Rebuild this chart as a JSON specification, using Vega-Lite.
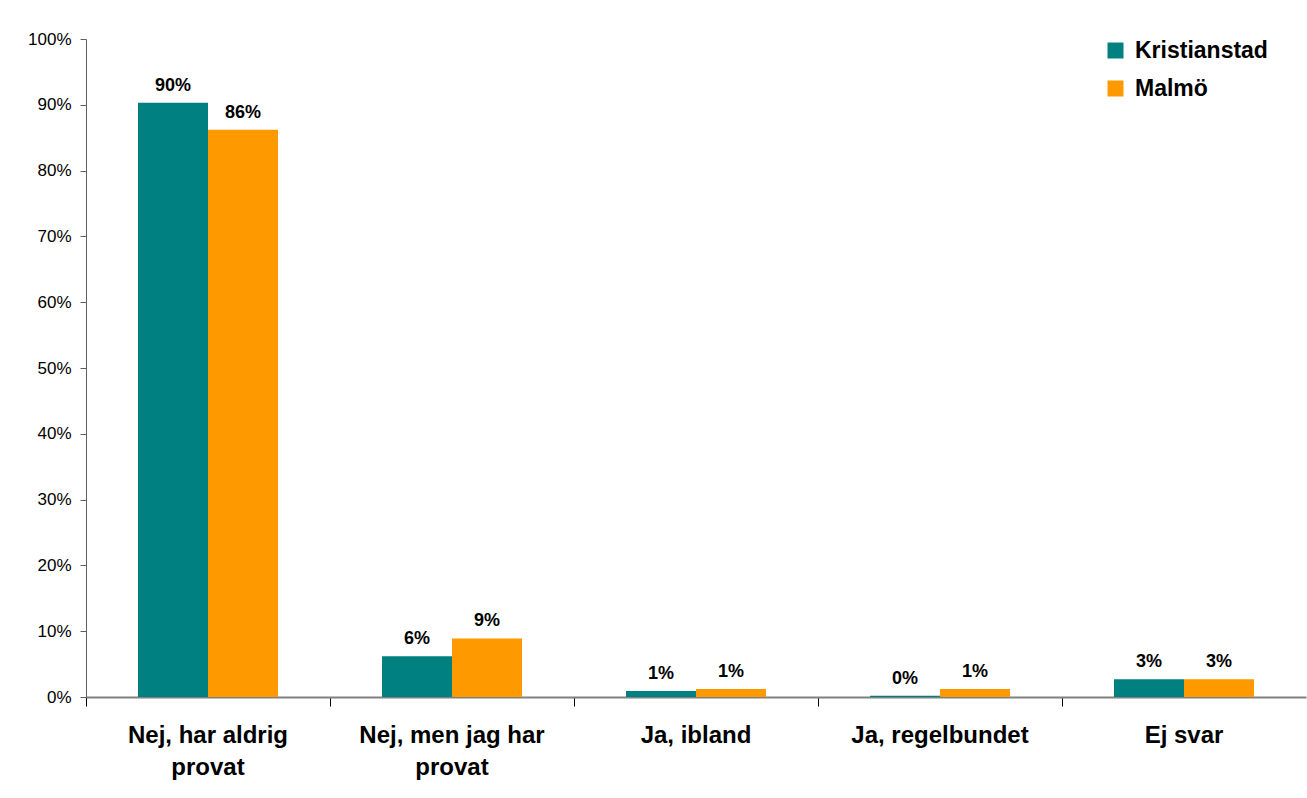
{
  "$schema": "https://vega.github.io/schema/vega-lite/v6.json",
  "width": 1220,
  "height": 658,
  "autosize": {"type": "none"},
  "padding": {"left": 86, "top": 39, "right": 1, "bottom": 101},
  "background": "white",
  "data": {
    "values": [
      {"svar": "Nej, har aldrig provat", "ort": "Kristianstad", "andel": 90.3, "etikett": "90%"},
      {"svar": "Nej, har aldrig provat", "ort": "Malmö", "andel": 86.2, "etikett": "86%"},
      {"svar": "Nej, men jag har provat", "ort": "Kristianstad", "andel": 6.2, "etikett": "6%"},
      {"svar": "Nej, men jag har provat", "ort": "Malmö", "andel": 8.9, "etikett": "9%"},
      {"svar": "Ja, ibland", "ort": "Kristianstad", "andel": 0.9, "etikett": "1%"},
      {"svar": "Ja, ibland", "ort": "Malmö", "andel": 1.2, "etikett": "1%"},
      {"svar": "Ja, regelbundet", "ort": "Kristianstad", "andel": 0.2, "etikett": "0%"},
      {"svar": "Ja, regelbundet", "ort": "Malmö", "andel": 1.2, "etikett": "1%"},
      {"svar": "Ej svar", "ort": "Kristianstad", "andel": 2.7, "etikett": "3%"},
      {"svar": "Ej svar", "ort": "Malmö", "andel": 2.7, "etikett": "3%"}
    ]
  },
  "encoding": {
    "x": {
      "field": "svar",
      "type": "nominal",
      "sort": null,
      "scale": {"paddingInner": 0, "paddingOuter": 0},
      "axis": {
        "title": null,
        "labelAngle": 0,
        "labelFont": "Liberation Sans",
        "labelFontSize": 24,
        "labelFontWeight": "bold",
        "labelColor": "black",
        "labelPadding": 17,
        "labelLineHeight": 32,
        "labelLimit": 400,
        "labelExpr": "datum.value == 'Nej, har aldrig provat' ? ['Nej, har aldrig', 'provat'] : datum.value == 'Nej, men jag har provat' ? ['Nej, men jag har', 'provat'] : datum.value",
        "bandPosition": 0,
        "ticks": true,
        "tickSize": 9,
        "tickColor": "black",
        "tickWidth": 1,
        "domainColor": "#808080",
        "domainWidth": 2,
        "grid": false
      }
    },
    "xOffset": {
      "field": "ort",
      "type": "nominal",
      "scale": {"paddingInner": 0, "paddingOuter": 0.743}
    },
    "y": {
      "field": "andel",
      "type": "quantitative",
      "scale": {"domain": [0, 100], "nice": false},
      "axis": {
        "title": null,
        "values": [0, 10, 20, 30, 40, 50, 60, 70, 80, 90, 100],
        "labelExpr": "datum.value + '%'",
        "labelFont": "Liberation Sans",
        "labelFontSize": 17,
        "labelColor": "black",
        "labelPadding": 9,
        "tickSize": 6,
        "tickColor": "#606060",
        "domainColor": "#606060",
        "grid": false
      }
    }
  },
  "layer": [
    {
      "mark": {"type": "bar"},
      "encoding": {
        "color": {
          "field": "ort",
          "type": "nominal",
          "scale": {"domain": ["Kristianstad", "Malmö"], "range": ["#008080", "#FF9900"]},
          "legend": {
            "title": null,
            "orient": "none",
            "legendX": 1018,
            "legendY": 0,
            "symbolType": "square",
            "symbolSize": 256,
            "symbolStrokeWidth": 0,
            "symbolOpacity": 1,
            "labelFont": "Liberation Sans",
            "labelFontSize": 23,
            "labelFontWeight": "bold",
            "labelColor": "black",
            "labelOffset": 8,
            "rowPadding": 14
          }
        }
      }
    },
    {
      "mark": {"type": "text", "baseline": "bottom", "dy": -8, "font": "Liberation Sans", "fontSize": 18, "fontWeight": "bold", "color": "black"},
      "encoding": {
        "text": {"field": "etikett"}
      }
    }
  ],
  "config": {
    "view": {"stroke": null}
  }
}
